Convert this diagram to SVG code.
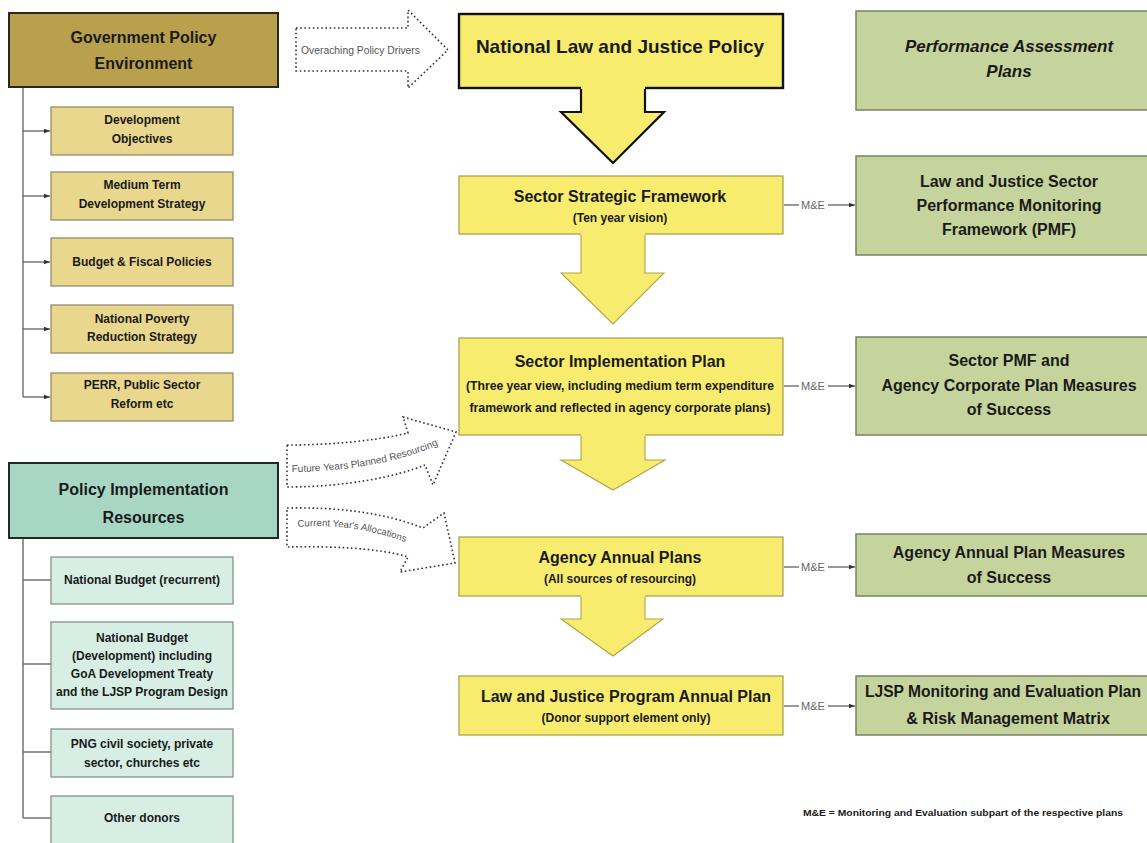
<svg xmlns="http://www.w3.org/2000/svg" width="1147" height="843" viewBox="0 0 1147 843">
<style>
.hg{fill:#b8a04c;stroke:#2b2716;stroke-width:2}
.sg{fill:#e8d78c;stroke:#8c8466;stroke-width:1.2}
.hr{fill:#a8d6c4;stroke:#1f2a26;stroke-width:2}
.sr{fill:#d6eee4;stroke:#7d8a85;stroke-width:1.2}
.yl{fill:#f7ec6e;stroke:#a59c4e;stroke-width:1.2}
.gr{fill:#c5d49c;stroke:#7b8166;stroke-width:1.5}
text{font-family:"Liberation Sans",Arial,sans-serif;fill:#1a1a1a}
.b{font-weight:bold;text-anchor:middle}
.h16{font-size:16px}
.s12{font-size:12px}
.s13{font-size:13px}
.me{font-size:11px;fill:#666;text-anchor:middle}
.dl{fill:#ffffff;stroke:#333;stroke-width:1.6;stroke-dasharray:1.6 2.6}
.dt{font-size:10px;fill:#555}
.cl{stroke:#555;stroke-width:1.2;fill:none}
.cr{stroke:#7a7a7a;stroke-width:1.6;fill:none}
.af{fill:#f7ec6e;stroke:none}
.ao{fill:none;stroke:#b0a34c;stroke-width:1.1}
</style>
<defs>
<marker id="ah" viewBox="0 0 6 6" refX="6" refY="3" markerWidth="6" markerHeight="6" markerUnits="userSpaceOnUse" orient="auto">
<path d="M0,0.8 L6,3 L0,5.2 Z" fill="#333"/>
</marker>
</defs>

<g id="connectors">
<line class="cl" x1="23" y1="87" x2="23" y2="397"/>
<line class="cl" x1="23" y1="131" x2="50" y2="131" marker-end="url(#ah)"/>
<line class="cl" x1="23" y1="196" x2="50" y2="196" marker-end="url(#ah)"/>
<line class="cl" x1="23" y1="262" x2="50" y2="262" marker-end="url(#ah)"/>
<line class="cl" x1="23" y1="329" x2="50" y2="329" marker-end="url(#ah)"/>
<line class="cl" x1="23" y1="397" x2="50" y2="397" marker-end="url(#ah)"/>
<line class="cr" x1="23" y1="538" x2="23" y2="818"/>
<line class="cr" x1="23" y1="580" x2="51" y2="580"/>
<line class="cr" x1="23" y1="664" x2="51" y2="664"/>
<line class="cr" x1="23" y1="752" x2="51" y2="752"/>
<line class="cr" x1="23" y1="818" x2="51" y2="818"/>
<g id="me1"><line class="cl" x1="784" y1="205" x2="799" y2="205"/><text class="me" x="813" y="209">M&amp;E</text><line class="cl" x1="828" y1="205" x2="855" y2="205" marker-end="url(#ah)"/></g>
<g id="me2"><line class="cl" x1="784" y1="386" x2="799" y2="386"/><text class="me" x="813" y="390">M&amp;E</text><line class="cl" x1="828" y1="386" x2="855" y2="386" marker-end="url(#ah)"/></g>
<g id="me3"><line class="cl" x1="784" y1="567" x2="799" y2="567"/><text class="me" x="813" y="571">M&amp;E</text><line class="cl" x1="828" y1="567" x2="855" y2="567" marker-end="url(#ah)"/></g>
<g id="me4"><line class="cl" x1="784" y1="706" x2="799" y2="706"/><text class="me" x="813" y="710">M&amp;E</text><line class="cl" x1="828" y1="706" x2="855" y2="706" marker-end="url(#ah)"/></g>
</g>

<g id="gov-env"><rect class="hg" x="9" y="13" width="269" height="74"/>
<text class="b h16" x="143.5" y="43">Government Policy</text><text class="b h16" x="143.5" y="69">Environment</text></g>
<g id="dev-obj"><rect class="sg" x="51" y="107" width="182" height="48"/>
<text class="b s12" x="142" y="124">Development</text><text class="b s12" x="142" y="143">Objectives</text></g>
<g id="mtds"><rect class="sg" x="51" y="172" width="182" height="48"/>
<text class="b s12" x="142" y="189">Medium Term</text><text class="b s12" x="142" y="208">Development Strategy</text></g>
<g id="budget"><rect class="sg" x="51" y="238" width="182" height="48"/>
<text class="b s12" x="142" y="266">Budget &amp; Fiscal Policies</text></g>
<g id="nprs"><rect class="sg" x="51" y="305" width="182" height="48"/>
<text class="b s12" x="142" y="323">National Poverty</text><text class="b s12" x="142" y="341">Reduction Strategy</text></g>
<g id="perr"><rect class="sg" x="51" y="373" width="182" height="48"/>
<text class="b s12" x="142" y="389">PERR, Public Sector</text><text class="b s12" x="142" y="408">Reform etc</text></g>

<g id="pir"><rect class="hr" x="9" y="463" width="269" height="75"/>
<text class="b h16" x="143.5" y="495">Policy Implementation</text><text class="b h16" x="143.5" y="523">Resources</text></g>
<g id="nb-rec"><rect class="sr" x="51" y="557" width="182" height="47"/>
<text class="b s12" x="142" y="584">National Budget (recurrent)</text></g>
<g id="nb-dev"><rect class="sr" x="51" y="622" width="182" height="87"/>
<text class="b s12" x="142" y="642">National Budget</text><text class="b s12" x="142" y="660">(Development) including</text><text class="b s12" x="142" y="678">GoA Development Treaty</text><text class="b s12" x="142" y="696">and the LJSP Program Design</text></g>
<g id="png"><rect class="sr" x="51" y="729" width="182" height="48"/>
<text class="b s12" x="142" y="748">PNG civil society, private</text><text class="b s12" x="142" y="767">sector, churches etc</text></g>
<g id="donors"><rect class="sr" x="51" y="796" width="182" height="54"/>
<text class="b s12" x="142" y="822">Other donors</text></g>

<g id="drivers"><path class="dl" d="M296,28 L408,28 L408,10 L448,50 L408,88 L408,71 L296,71 Z"/>
<text class="dt" x="301" y="54" textLength="119" lengthAdjust="spacingAndGlyphs">Overaching Policy Drivers</text></g>
<g id="future"><path class="dl" d="M287,445 C330,445 375,441 408,433 L403,417 L456,432 L433,485 L425,465 C395,477 345,487 287,487 Z"/>
<path id="fp" d="M292,472 C330,472 400,466 450,439" fill="none"/>
<text class="dt"><textPath href="#fp">Future Years Planned Resourcing</textPath></text></g>
<g id="current"><path class="dl" d="M287,508 C340,507 385,513 423,528 L444,513 L455,563 L400,572 L408,557 C380,548 330,546 287,547 Z"/>
<path id="cp" d="M298,527 C330,524 370,528 410,544" fill="none"/>
<text class="dt" style="font-size:9.6px"><textPath href="#cp">Current Year's Allocations</textPath></text></g>

<g id="nljp"><rect x="459" y="14" width="324" height="74" fill="#f7ec6e" stroke="#111" stroke-width="2.4"/>
<text class="b" x="620" y="53" style="font-size:19px">National Law and Justice Policy</text></g>
<g id="ssf"><rect class="yl" x="459" y="176" width="324" height="58"/>
<text class="b h16" x="620" y="202">Sector Strategic Framework</text><text class="b s12" x="620" y="222">(Ten year vision)</text></g>
<g id="sip"><rect class="yl" x="459" y="338" width="324" height="97"/>
<text class="b h16" x="620" y="367">Sector Implementation Plan</text>
<text class="b s13" x="620" y="390" textLength="308" lengthAdjust="spacingAndGlyphs">(Three year view, including medium term expenditure</text>
<text class="b s13" x="620" y="412" textLength="301" lengthAdjust="spacingAndGlyphs">framework and reflected in agency corporate plans)</text></g>
<g id="aap"><rect class="yl" x="459" y="537" width="324" height="59"/>
<text class="b h16" x="620" y="563">Agency Annual Plans</text><text class="b s13" x="620" y="583" textLength="152" lengthAdjust="spacingAndGlyphs">(All sources of resourcing)</text></g>
<g id="ljpap"><rect class="yl" x="459" y="676" width="324" height="59"/>
<text class="b h16" x="626" y="702">Law and Justice Program Annual Plan</text><text class="b s13" x="626" y="722" textLength="169" lengthAdjust="spacingAndGlyphs">(Donor support element only)</text></g>

<g id="flow-arrows">
<polygon class="af" points="581,86 581,112 561,112 613,163 664,112 645,112 645,86"/>
<polyline points="581,89 581,112 561,112 613,163 664,112 645,112 645,89" fill="none" stroke="#111" stroke-width="2.2"/>
<polygon class="af" points="581,233 581,273 561,273 613,324 664,273 645,273 645,233"/>
<polyline class="ao" points="581,235 581,273 561,273 613,324 664,273 645,273 645,235"/>
<polygon class="af" points="581,434 581,460 561,460 613,490 665,460 645,460 645,434"/>
<polyline class="ao" points="581,436 581,460 561,460 613,490 665,460 645,460 645,436"/>
<polygon class="af" points="581,595 581,619 561,619 613,656 663,619 645,619 645,595"/>
<polyline class="ao" points="581,597 581,619 561,619 613,656 663,619 645,619 645,597"/>
</g>

<g id="pap"><rect class="gr" x="856" y="11" width="296" height="99"/>
<text class="b" x="1009" y="52" style="font-size:17px;font-style:italic">Performance Assessment</text><text class="b" x="1009" y="77" style="font-size:17px;font-style:italic">Plans</text></g>
<g id="pmf"><rect class="gr" x="856" y="156" width="296" height="99"/>
<text class="b h16" x="1009" y="187">Law and Justice Sector</text><text class="b h16" x="1009" y="211">Performance Monitoring</text><text class="b h16" x="1009" y="235">Framework (PMF)</text></g>
<g id="spmf"><rect class="gr" x="856" y="337" width="296" height="98"/>
<text class="b h16" x="1009" y="366">Sector PMF and</text><text class="b h16" x="1009" y="391">Agency Corporate Plan Measures</text><text class="b h16" x="1009" y="415">of Success</text></g>
<g id="aapm"><rect class="gr" x="856" y="534" width="296" height="62"/>
<text class="b h16" x="1009" y="558">Agency Annual Plan Measures</text><text class="b h16" x="1009" y="583">of Success</text></g>
<g id="ljsp-me"><rect class="gr" x="856" y="676" width="296" height="59"/>
<text class="b h16" x="1003" y="697" textLength="276" lengthAdjust="spacingAndGlyphs">LJSP Monitoring and Evaluation Plan</text><text class="b h16" x="1008" y="724">&amp; Risk Management Matrix</text></g>

<text x="803" y="816" style="font-size:9.5px;font-weight:bold" textLength="320" lengthAdjust="spacingAndGlyphs">M&amp;E = Monitoring and Evaluation subpart of the respective plans</text>
</svg>
